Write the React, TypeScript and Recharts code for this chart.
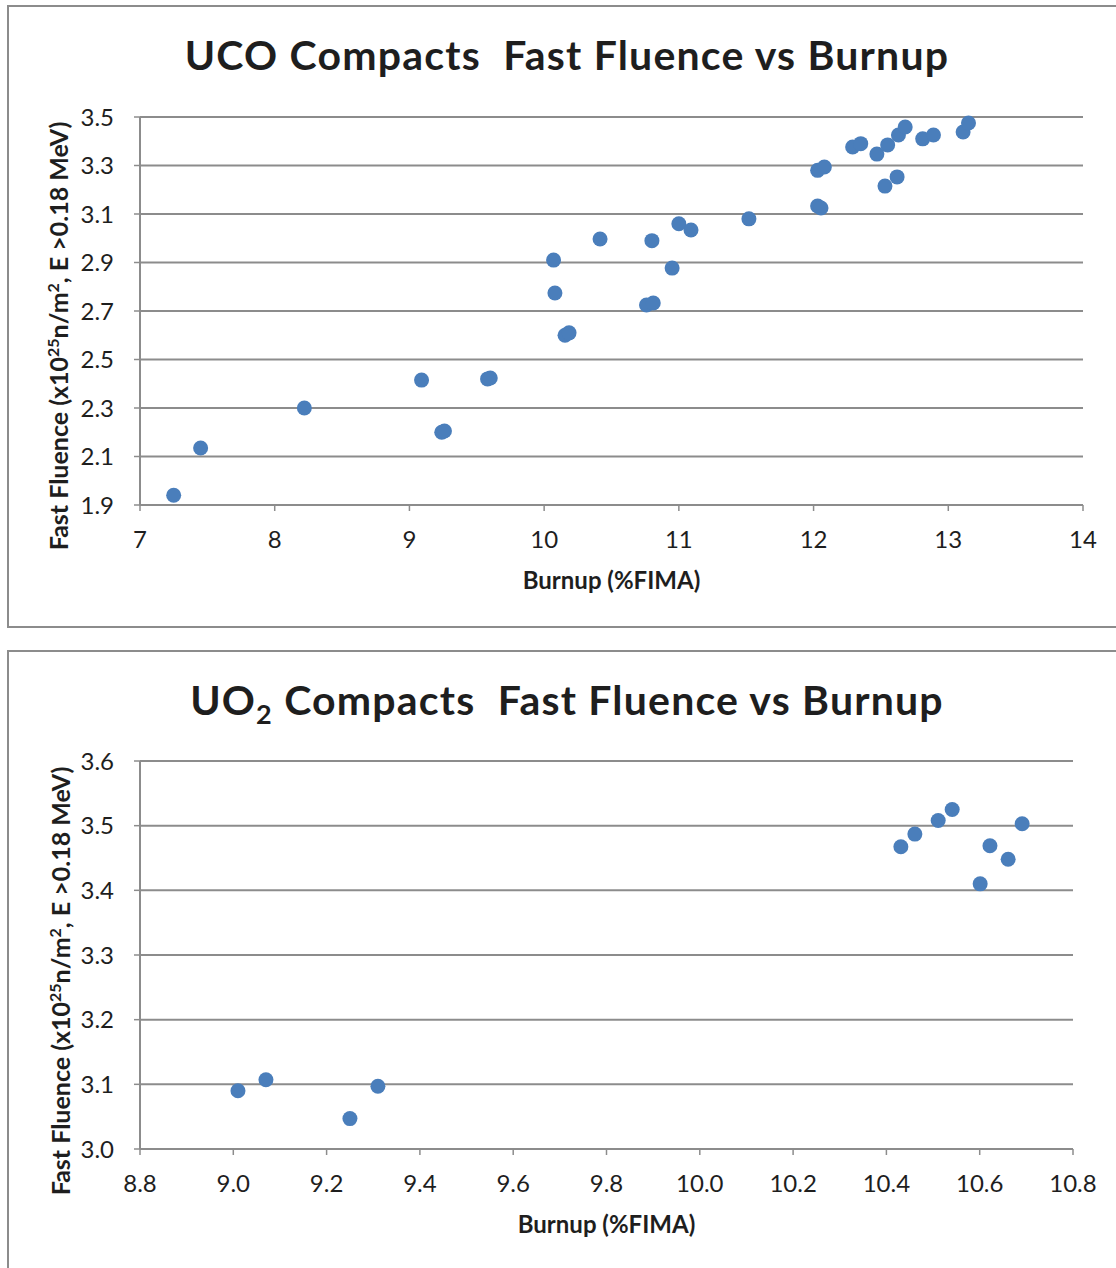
import { ScatterChart, Scatter, XAxis, YAxis, CartesianGrid, Label } from 'recharts';

// UCO compacts
const ucoBurnup = [
  7.25, 7.45, 8.22, 9.09, 9.24, 9.26, 9.58, 9.6, 10.07, 10.08, 10.155, 10.185,
  10.415, 10.76, 10.81, 10.8, 10.95, 11.0, 11.09, 11.52, 12.03, 12.055, 12.03,
  12.08, 12.29, 12.35, 12.47, 12.53, 12.55, 12.62, 12.63, 12.68, 12.81, 12.89,
  13.11, 13.15,
];
const ucoFluence = [
  1.94, 2.135, 2.3, 2.415, 2.2, 2.205, 2.42, 2.424, 2.91, 2.774, 2.6, 2.61,
  2.997, 2.725, 2.733, 2.99, 2.877, 3.06, 3.034, 3.08, 3.133, 3.125, 3.28,
  3.294, 3.376, 3.39, 3.347, 3.215, 3.385, 3.253, 3.426, 3.459, 3.41, 3.426,
  3.438, 3.475,
];
const ucoXTicks = [7, 8, 9, 10, 11, 12, 13, 14];
const ucoYTicks = [1.9, 2.1, 2.3, 2.5, 2.7, 2.9, 3.1, 3.3, 3.5];

// UO2 compacts
const uo2Burnup = [9.01, 9.07, 9.25, 9.31, 10.431, 10.461, 10.511, 10.541, 10.601, 10.622, 10.661, 10.691];
const uo2Fluence = [3.09, 3.107, 3.047, 3.097, 3.4675, 3.487, 3.508, 3.525, 3.41, 3.469, 3.448, 3.503];
const uo2XTicks = [8.8, 9.0, 9.2, 9.4, 9.6, 9.8, 10.0, 10.2, 10.4, 10.6, 10.8];
const uo2YTicks = [3.0, 3.1, 3.2, 3.3, 3.4, 3.5, 3.6];

const FONT = 'Lato, "Noto Sans", sans-serif';
const GRID = '#8c8c8c';
const DOT = '#4a7ebb';
const TEXT = '#1e1e1e';

const PANEL_W = 1120;

interface PanelProps {
  top: number;
  height: number;
  title: React.ReactNode;
  xs: number[];
  ys: number[];
  xTicks: number[];
  yTicks: number[];
  xDigits: number;
  margin: { top: number; right: number; bottom: number; left: number };
  yLabelX: number;
  yLabelShift: number;
}

function Dot(props: any) {
  return <circle cx={props.cx} cy={props.cy} r={7.5} fill={DOT} />;
}

function Panel({ top, height, title, xs, ys, xTicks, yTicks, xDigits, margin, yLabelX, yLabelShift }: PanelProps) {
  const data = xs.map((x, i) => ({ x, y: ys[i] }));
  return (
    <div style={{ position: 'absolute', left: 7, top, width: PANEL_W, height }}>
      <div
        style={{
          position: 'absolute', inset: 0, border: `2px solid ${GRID}`, boxSizing: 'border-box',
        }}
      />
      <div
        style={{
          position: 'absolute', top: 30, left: 0, width: PANEL_W, textAlign: 'center',
          fontFamily: FONT, fontWeight: 700, fontSize: 41, letterSpacing: 1.2,
          lineHeight: '40px', color: TEXT,
        }}
      >
        {title}
      </div>
      <div style={{ position: 'absolute', left: 0, top: 0 }}>
        <ScatterChart width={PANEL_W} height={height} margin={margin}>
          <CartesianGrid vertical={false} stroke={GRID} strokeWidth={2} />
          <XAxis
            type="number"
            dataKey="x"
            domain={[xTicks[0], xTicks[xTicks.length - 1]]}
            ticks={xTicks}
            interval={0}
            height={90}
            tickFormatter={(v) => v.toFixed(xDigits)}
            tick={{ fontSize: 24, fill: TEXT, fontFamily: FONT }}
            tickSize={6}
            tickMargin={20}
            axisLine={{ stroke: GRID, strokeWidth: 2 }}
            tickLine={{ stroke: GRID, strokeWidth: 1.5 }}
          >
            <Label
              content={({ viewBox }: any) => (
                <text
                  x={viewBox.x + viewBox.width / 2}
                  y={viewBox.y + 84}
                  textAnchor="middle"
                  fontFamily={FONT}
                  fontWeight={700}
                  fontSize={24}
                  fill={TEXT}
                >
                  Burnup (%FIMA)
                </text>
              )}
            />
          </XAxis>
          <YAxis
            type="number"
            dataKey="y"
            domain={[yTicks[0], yTicks[yTicks.length - 1]]}
            ticks={yTicks}
            interval={0}
            width={133}
            tickFormatter={(v) => v.toFixed(1)}
            tick={{ fontSize: 24, fill: TEXT, fontFamily: FONT }}
            tickSize={6}
            tickMargin={20}
            axisLine={{ stroke: GRID, strokeWidth: 2 }}
            tickLine={{ stroke: GRID, strokeWidth: 1.5 }}
          >
            <Label
              content={({ viewBox }: any) => {
                const cx = viewBox.x + yLabelX;
                const cy = viewBox.y + viewBox.height / 2 + yLabelShift;
                return (
                  <text
                    x={cx}
                    y={cy}
                    transform={`rotate(-90 ${cx} ${cy})`}
                    textAnchor="middle"
                    fontFamily={FONT}
                    fontWeight={700}
                    fontSize={25}
                    fill={TEXT}
                  >
                    Fast Fluence (x10
                    <tspan dy={-9} fontSize={16}>25</tspan>
                    <tspan dy={9}>n/m</tspan>
                    <tspan dy={-9} fontSize={16}>2</tspan>
                    <tspan dy={9}>, E &gt;0.18 MeV)</tspan>
                  </text>
                );
              }}
            />
          </YAxis>
          <Scatter data={data} shape={Dot} isAnimationActive={false} />
        </ScatterChart>
      </div>
    </div>
  );
}

export default function App() {
  return (
    <div
      style={{
        position: 'absolute', left: 0, top: 0, width: 1116, height: 1268,
        overflow: 'hidden', background: '#fff',
      }}
    >
      <Panel
        top={5}
        height={623}
        title={<>UCO Compacts&nbsp;&nbsp;Fast Fluence vs Burnup</>}
        xs={ucoBurnup}
        ys={ucoFluence}
        xTicks={ucoXTicks}
        yTicks={ucoYTicks}
        xDigits={0}
        margin={{ top: 112, right: 44, bottom: 33, left: 0 }}
        yLabelX={61}
        yLabelShift={25}
      />
      <Panel
        top={650}
        height={630}
        title={
          <>
            UO<sub style={{ fontSize: 27, verticalAlign: -9, lineHeight: 0 }}>2</sub> Compacts&nbsp;&nbsp;Fast Fluence vs Burnup
          </>
        }
        xs={uo2Burnup}
        ys={uo2Fluence}
        xTicks={uo2XTicks}
        yTicks={uo2YTicks}
        xDigits={1}
        margin={{ top: 111, right: 54, bottom: 41, left: 0 }}
        yLabelX={63}
        yLabelShift={26}
      />
    </div>
  );
}
